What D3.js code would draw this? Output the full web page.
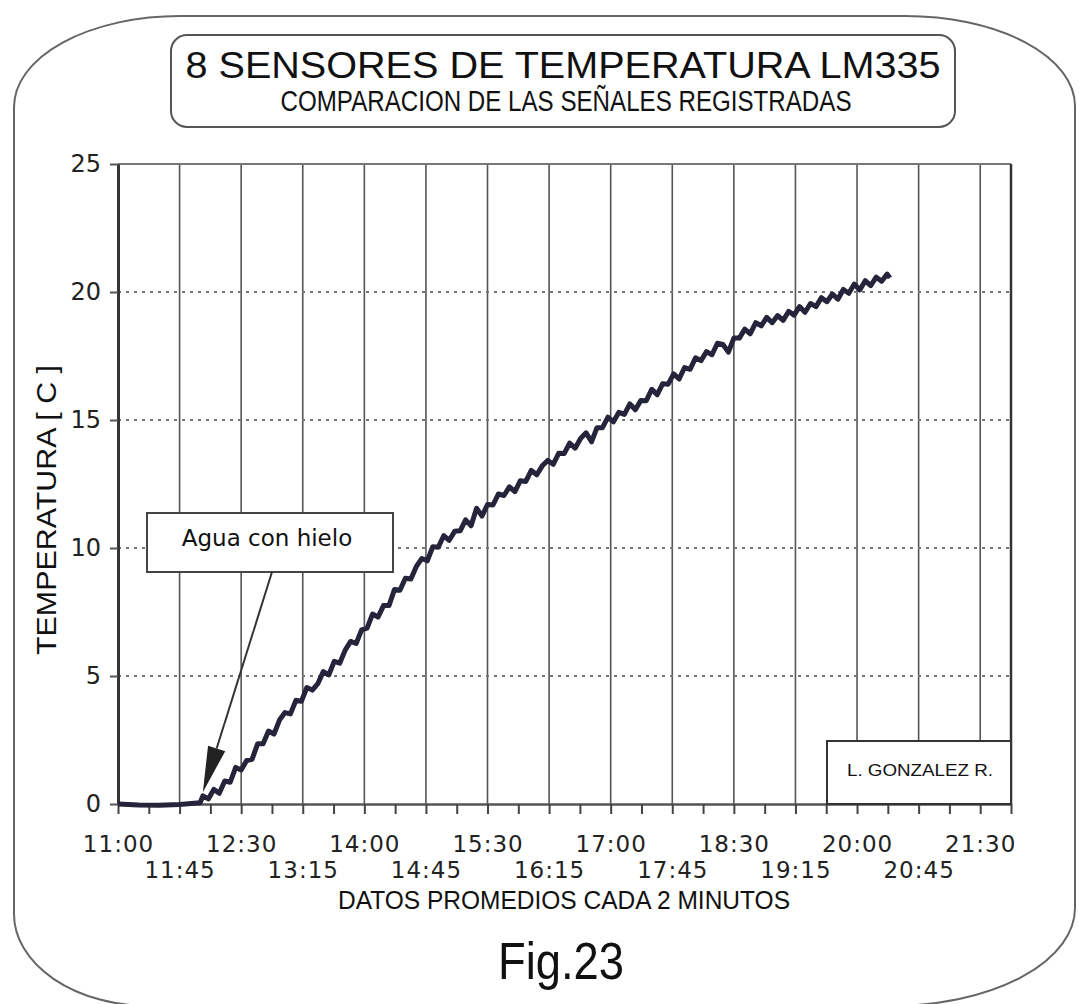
<!DOCTYPE html>
<html>
<head>
<meta charset="utf-8">
<script src="https://cdn.jsdelivr.net/npm/d3@7"></script>
<style>
    html, body { margin: 0; padding: 0; background: #fff; }
    svg { display: block; }
    .tick-label { font-family: "DejaVu Sans", sans-serif; font-size: 23px; fill: #222; }
    .narrow { font-family: "Liberation Sans Narrow", "Liberation Sans", sans-serif; fill: #111; }
</style>
</head>
<body>
<div id="chart"></div>
<script>
// Fig.23 - 8 sensores LM335, temperatura vs hora (datos promedio cada 2 min)

const Y_TICKS = [0, 5, 10, 15, 20, 25];
const X_LABELS_ROW1 = ["11:00", "12:30", "14:00", "15:30", "17:00", "18:30", "20:00", "21:30"];
const X_LABELS_ROW2 = ["11:45", "13:15", "14:45", "16:15", "17:45", "19:15", "20:45"];
const X_START = "11:00";
const X_END = "21:52";

// minutes after 11:00
const TIME_MIN = [
    0, 15, 30, 45, 60,
    62, 66, 70, 74, 78, 82, 86, 90, 94, 98, 102, 106, 110, 114, 118, 122, 126, 130,
    134, 138, 142, 146, 150, 154, 158, 162, 166, 170, 174, 178, 182, 186, 190, 194,
    198, 202, 206, 210, 214, 218, 222, 226, 230, 234, 238, 242, 246, 250, 254, 258,
    262, 266, 270, 274, 278, 282, 286, 290, 294, 298, 302, 306, 310, 314, 318, 322,
    326, 330, 334, 338, 342, 346, 350, 354, 358, 362, 366, 370, 374, 378, 382, 386,
    390, 394, 398, 402, 406, 410, 414, 418, 422, 426, 430, 434, 438, 442, 446, 450,
    454, 458, 462, 466, 470, 474, 478, 482, 486, 490, 494, 498, 502, 506, 510, 514,
    518, 522, 526, 530, 534, 538, 542, 546, 550, 554, 558, 562, 564
];
// temperature [C]
const TEMP_C = [
    0.00, -0.04, -0.05, -0.02, 0.05,
    0.32, 0.20, 0.57, 0.42, 0.90, 0.85, 1.43, 1.33, 1.70, 1.75, 2.35, 2.35, 2.85, 2.73, 3.28, 3.57, 3.52, 4.05,
    4.01, 4.55, 4.45, 4.70, 5.17, 5.04, 5.57, 5.50, 6.01, 6.35, 6.27, 6.80, 6.87, 7.42, 7.30, 7.75,
    7.75, 8.38, 8.35, 8.82, 8.79, 9.28, 9.59, 9.50, 10.05, 10.03, 10.48, 10.30, 10.65, 10.67, 11.10, 10.87,
    11.55, 11.25, 11.70, 11.68, 12.11, 12.05, 12.39, 12.20, 12.63, 12.60, 13.03, 12.86, 13.21, 13.42, 13.27, 13.70,
    13.69, 14.10, 13.90, 14.28, 14.50, 14.15, 14.70, 14.70, 15.11, 14.93, 15.30, 15.22, 15.63, 15.40, 15.76, 15.75,
    16.20, 15.99, 16.42, 16.40, 16.80, 16.60, 17.05, 16.98, 17.43, 17.32, 17.67, 17.55, 18.00, 17.95, 17.65, 18.20,
    18.20, 18.55, 18.37, 18.80, 18.68, 19.01, 18.80, 19.08, 18.89, 19.24, 19.10, 19.43, 19.21, 19.55, 19.43, 19.78,
    19.62, 19.92, 19.72, 20.10, 19.95, 20.31, 20.08, 20.44, 20.25, 20.58, 20.42, 20.70, 20.55
];

const ANNOTATION = {text: "Agua con hielo", time: 62, value: 0.3};
const SIGNATURE = "L. GONZALEZ R.";

document.addEventListener('DOMContentLoaded', createChart);

function toMinutes(label) {
    const [h, m] = label.split(":").map(Number);
    const [h0, m0] = X_START.split(":").map(Number);
    return (h * 60 + m) - (h0 * 60 + m0);
}

function createChart() {
    const W = 1079, H = 1004;
    const plot = {left: 118, right: 1011, top: 164, bottom: 804};

    const svg = d3.select("#chart").append("svg")
        .attr("width", W)
        .attr("height", H);

    svg.append("rect").attr("width", W).attr("height", H).attr("fill", "#fff");

    // outer frame with rounded (hand drawn) corners
    svg.append("path")
        .attr("d", "M14,107 A166,91 0 0 1 180,16 L905,16 A170,90 0 0 1 1075,106 " +
                   "L1075,907 A184,98 0 0 1 891,1006 L150,1006 A136,92 0 0 1 14,914 Z")
        .attr("fill", "none")
        .attr("stroke", "#666")
        .attr("stroke-width", 2);

    // title box
    svg.append("rect")
        .attr("x", 171).attr("y", 35)
        .attr("width", 784).attr("height", 92)
        .attr("rx", 16)
        .attr("fill", "none")
        .attr("stroke", "#555")
        .attr("stroke-width", 2);

    svg.append("text")
        .attr("x", 563).attr("y", 78)
        .attr("text-anchor", "middle")
        .attr("font-family", "'Liberation Sans', Arial, sans-serif")
        .attr("font-size", 36)
        .attr("textLength", 755)
        .attr("lengthAdjust", "spacingAndGlyphs")
        .attr("fill", "#111")
        .text("8 SENSORES DE TEMPERATURA LM335");

    svg.append("text")
        .attr("class", "narrow")
        .attr("x", 566).attr("y", 111)
        .attr("text-anchor", "middle")
        .attr("font-size", 29)
        .attr("textLength", 571)
        .attr("lengthAdjust", "spacingAndGlyphs")
        .text("COMPARACION DE LAS SEÑALES REGISTRADAS");

    const x = d3.scaleLinear()
        .domain([toMinutes(X_START), toMinutes(X_END) + 0.5])
        .range([plot.left, plot.right]);

    const y = d3.scaleLinear()
        .domain([0, 25])
        .range([plot.bottom, plot.top]);

    const g = svg.append("g");

    // vertical grid lines every 45 min
    const gridTimes = X_LABELS_ROW1.concat(X_LABELS_ROW2).map(toMinutes).filter(d => d > 0);
    g.selectAll(".vgrid")
        .data(gridTimes)
        .enter().append("line")
        .attr("x1", d => x(d)).attr("x2", d => x(d))
        .attr("y1", y(25)).attr("y2", y(0))
        .attr("stroke", "#555")
        .attr("stroke-width", 1.6);

    // horizontal dotted lines
    g.selectAll(".hgrid")
        .data(Y_TICKS.filter(d => d > 0 && d < 25))
        .enter().append("line")
        .attr("x1", x.range()[0]).attr("x2", x.range()[1])
        .attr("y1", d => y(d)).attr("y2", d => y(d))
        .attr("stroke", "#777")
        .attr("stroke-width", 2)
        .attr("stroke-dasharray", "3,5");

    // top border and right border
    g.append("line")
        .attr("x1", x.range()[0]).attr("x2", x.range()[1])
        .attr("y1", y(25)).attr("y2", y(25))
        .attr("stroke", "#777").attr("stroke-width", 2);
    g.append("line")
        .attr("x1", x.range()[1]).attr("x2", x.range()[1])
        .attr("y1", y(25)).attr("y2", y(0))
        .attr("stroke", "#333").attr("stroke-width", 2.5);

    // x axis: minor ticks every 22.5 min
    const minorTicks = d3.range(0, toMinutes(X_END) + 1, 22.5);
    const xAxis = g.append("g")
        .attr("transform", `translate(0,${y(0)})`)
        .call(d3.axisBottom(x).tickValues(minorTicks).tickSize(10).tickFormat("").tickSizeOuter(0));
    xAxis.select(".domain").attr("stroke", "#555").attr("stroke-width", 2.5);
    xAxis.selectAll(".tick line").attr("stroke", "#444").attr("stroke-width", 2);

    // tick labels, two staggered rows
    [[X_LABELS_ROW1, 32], [X_LABELS_ROW2, 58]].forEach(([labels, pad]) => {
        const row = g.append("g")
            .attr("transform", `translate(0,${y(0)})`)
            .call(d3.axisBottom(x)
                .tickValues(labels.map(toMinutes))
                .tickFormat((d, i) => labels[i])
                .tickSize(0)
                .tickPadding(pad));
        row.select(".domain").remove();
        row.selectAll("text")
            .attr("class", "tick-label")
            .attr("font-family", null)
            .attr("font-size", null)
            .attr("fill", null)
            .attr("letter-spacing", 1);
    });

    // y axis
    const yAxis = g.append("g")
        .attr("transform", `translate(${plot.left},0)`)
        .call(d3.axisLeft(y).tickValues(Y_TICKS).tickSize(8).tickPadding(9).tickSizeOuter(0));
    yAxis.select(".domain").attr("stroke", "#333").attr("stroke-width", 3);
    yAxis.selectAll(".tick line").attr("stroke", "#555").attr("stroke-width", 2);
    yAxis.selectAll("text")
        .attr("class", "tick-label")
        .attr("font-family", null)
        .attr("font-size", null)
        .attr("fill", null)
        .style("font-size", "24px");

    // axis titles
    svg.append("text")
        .attr("class", "narrow")
        .attr("transform", "translate(56,510) rotate(-90)")
        .attr("text-anchor", "middle")
        .attr("font-size", 27)
        .attr("textLength", 290)
        .attr("lengthAdjust", "spacingAndGlyphs")
        .text("TEMPERATURA [ C ]");

    svg.append("text")
        .attr("class", "narrow")
        .attr("x", 564).attr("y", 909)
        .attr("text-anchor", "middle")
        .attr("font-size", 25)
        .attr("textLength", 452)
        .attr("lengthAdjust", "spacingAndGlyphs")
        .text("DATOS PROMEDIOS CADA 2 MINUTOS");

    svg.append("text")
        .attr("class", "narrow")
        .attr("x", 561).attr("y", 979)
        .attr("text-anchor", "middle")
        .attr("font-size", 52)
        .attr("textLength", 126)
        .attr("lengthAdjust", "spacingAndGlyphs")
        .attr("fill", "#222")
        .text("Fig.23");

    // data line
    const points = TIME_MIN.map((t, i) => [t, TEMP_C[i]]);
    const line = d3.line()
        .x(d => x(d[0]))
        .y(d => y(d[1]));

    g.append("path")
        .datum(points)
        .attr("d", line)
        .attr("fill", "none")
        .attr("stroke", "#24243a")
        .attr("stroke-width", 5)
        .attr("stroke-linejoin", "round");

    // annotation box with arrow
    const box = {x: 147, y: 513, w: 246, h: 59};
    g.append("rect")
        .attr("x", box.x).attr("y", box.y)
        .attr("width", box.w).attr("height", box.h)
        .attr("fill", "#fff")
        .attr("stroke", "#444")
        .attr("stroke-width", 2);
    g.append("text")
        .attr("x", box.x + box.w / 2 - 3).attr("y", box.y + 33)
        .attr("text-anchor", "middle")
        .attr("font-family", "'DejaVu Sans', sans-serif")
        .attr("font-size", 23)
        .attr("fill", "#111")
        .text(ANNOTATION.text);

    const start = [272, box.y + box.h];
    const tip = [x(ANNOTATION.time), y(ANNOTATION.value) - 4];
    const ang = Math.atan2(tip[1] - start[1], tip[0] - start[0]);
    const headLen = 46, headHalf = 9;
    const base = [tip[0] - headLen * Math.cos(ang), tip[1] - headLen * Math.sin(ang)];
    g.append("line")
        .attr("x1", start[0]).attr("y1", start[1])
        .attr("x2", base[0]).attr("y2", base[1])
        .attr("stroke", "#333").attr("stroke-width", 2);
    g.append("path")
        .attr("d", `M${tip[0]},${tip[1]}` +
            `L${base[0] + headHalf * Math.sin(ang)},${base[1] - headHalf * Math.cos(ang)}` +
            `L${base[0] - headHalf * Math.sin(ang)},${base[1] + headHalf * Math.cos(ang)}Z`)
        .attr("fill", "#222");

    // signature box
    const sig = {x: 827, y: 741};
    g.append("rect")
        .attr("x", sig.x).attr("y", sig.y)
        .attr("width", plot.right - sig.x).attr("height", y(0) - sig.y)
        .attr("fill", "#fff")
        .attr("stroke", "#333")
        .attr("stroke-width", 2);
    g.append("text")
        .attr("x", (sig.x + plot.right) / 2 + 1).attr("y", 776)
        .attr("text-anchor", "middle")
        .attr("font-family", "'Liberation Sans', Arial, sans-serif")
        .attr("font-size", 16)
        .attr("textLength", 146)
        .attr("lengthAdjust", "spacingAndGlyphs")
        .attr("fill", "#111")
        .text(SIGNATURE);
}
</script>
</body>
</html>
